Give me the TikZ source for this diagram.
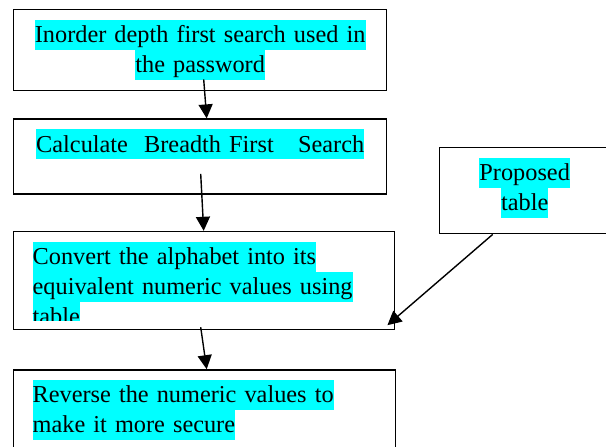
\documentclass[tikz,border=0pt]{standalone}
\usepackage{fontspec}
\setmainfont{Liberation Serif}
\usepackage{xcolor}
\usepackage{tikz}
\usetikzlibrary{arrows.meta, positioning}
\definecolor{hlcyan}{RGB}{0,255,255}
\newcommand{\hl}[1]{{\setlength{\fboxsep}{0pt}\colorbox{hlcyan}{\rule[-3.5pt]{0pt}{15pt}#1}}}
\tikzset{
  box/.style={rectangle, draw=black, line width=0.7pt, inner ysep=5pt,
    font=\fontsize{12.15pt}{15pt}\selectfont},
  cbox/.style={box, text width=176.5pt, inner xsep=5pt, align=center},
  lbox/.style={box, text width=172pt, inner xsep=9.5pt, align=left},
  arrow/.style={-{Triangle[length=7pt, width=7pt]}, line width=0.7pt}
}

\begin{document}
\begin{tikzpicture}[x=0.5pt, y=-0.5pt]
  \useasboundingbox (0,0) rectangle (606,446);
  \clip (0,0) rectangle (606,446);
  \node[cbox, text depth=19pt, anchor=north west] (inorder) at (13,9)
    {\hl{Inorder depth first search used in}\\\hl{the password}};
  \node[cbox, text depth=16pt, below=13.5pt of inorder.south west, anchor=north west] (bfs)
    {\hl{Calculate\ \ Breadth First\ \ \ Search}};
  \node[box, minimum width=190.5pt, minimum height=49pt, below=18pt of bfs.south west, anchor=north west] (convert) {};
  \begin{scope}
    \clip (convert.north west) rectangle ([yshift=5pt]convert.south east);
    \node[lbox, draw=none, anchor=north west] (converttext) at (convert.north west)
      {\hl{Convert the alphabet into its}\\\hl{equivalent numeric values using}\\\hl{table}};
  \end{scope}
  \node[lbox, text depth=30pt, below=19.5pt of convert.south west, anchor=north west] (reverse)
    {\hl{Reverse the numeric values to}\\\hl{make it more secure}};
  \node[box, text width=75pt, inner xsep=5pt, align=center, text depth=21.5pt, anchor=north west] (table) at (439,147)
    {\hl{Proposed}\\\hl{table}};

  \draw[arrow] ([xshift=1.75pt, yshift=6pt]inorder.south) -- ([xshift=3.25pt]bfs.north);
  \draw[arrow] ([xshift=0.25pt, yshift=10.5pt]bfs.south) -- ([xshift=-0.25pt]convert.north);
  \draw[arrow] ([xshift=-1.75pt, yshift=1.5pt]convert.south) -- ([xshift=1pt]reverse.north);
  \draw[arrow] ([xshift=-16pt]table.south) -- ([xshift=-4pt, yshift=2.5pt]convert.south east);
\end{tikzpicture}
\end{document}
